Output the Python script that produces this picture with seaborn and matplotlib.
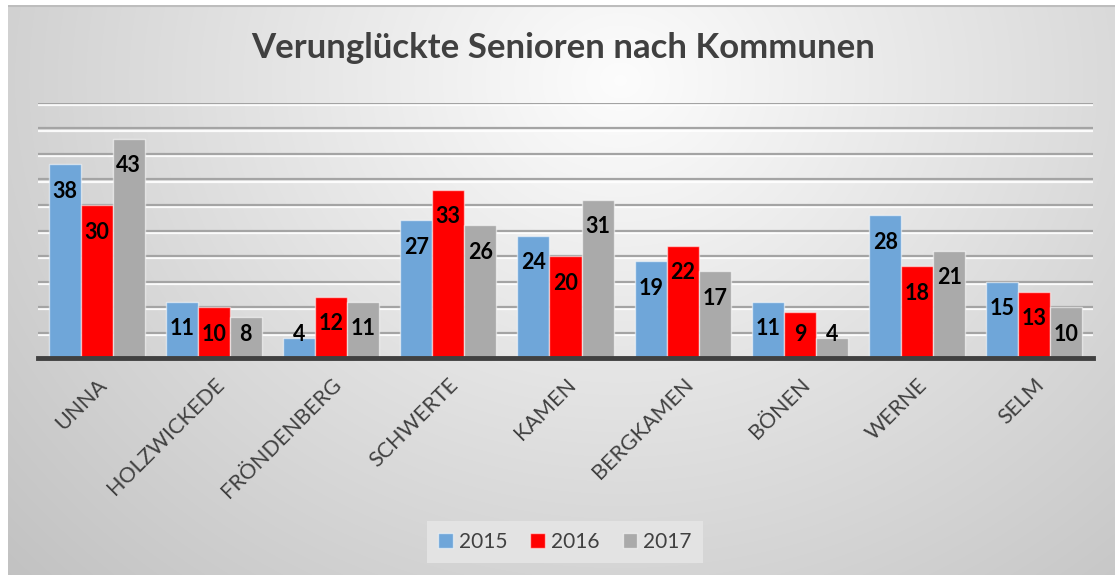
import numpy as np
import pandas as pd
import seaborn as sns
import matplotlib.pyplot as plt
import matplotlib.patheffects as pe

# Data
kommunen = ['UNNA', 'HOLZWICKEDE', 'FRÖNDENBERG', 'SCHWERTE', 'KAMEN',
            'BERGKAMEN', 'BÖNEN', 'WERNE', 'SELM']
jahre = ['2015', '2016', '2017']
werte_2015 = [38, 11, 4, 27, 24, 19, 11, 28, 15]
werte_2016 = [30, 10, 12, 33, 20, 22, 9, 18, 13]
werte_2017 = [43, 8, 11, 26, 31, 17, 4, 21, 10]

df = pd.DataFrame({
    'Kommune': kommunen * 3,
    'Jahr': [j for j in jahre for _ in kommunen],
    'Anzahl': werte_2015 + werte_2016 + werte_2017,
})

sns.set_theme(style='white')
plt.rcParams['font.family'] = ['Lato', 'DejaVu Sans']

W, H = 1115, 575
fig = plt.figure(figsize=(W / 100, H / 100), dpi=100)
fig.patch.set_facecolor('white')

# Background with radial gradient
bg = fig.add_axes([8 / W, 0, 1 - 8 / W, (H - 5) / H])
yy, xx = np.mgrid[0:570, 0:1107]
d = np.sqrt(((xx - 612) / 600.0) ** 2 + ((yy - 75) / 520.0) ** 2)
v = np.clip(0.99 - 0.165 * d, 0, 1)
bg.imshow(np.dstack([v, v, v]), aspect='auto', interpolation='bilinear')
bg.axhline(0.5, color='#bdbdbd', lw=1.5)
bg.set_axis_off()

# Main axes
ax = fig.add_axes([38 / W, 1 - 358 / H, (1093 - 38) / W, (358 - 103) / H])
ax.patch.set_alpha(0)

palette = {'2015': '#6fa6d9', '2016': '#ff0000', '2017': '#aaaaaa'}
sns.barplot(data=df, x='Kommune', y='Anzahl', hue='Jahr', palette=palette,
            width=0.82, edgecolor=(1, 1, 1, 0.55), linewidth=1,
            saturation=1, ax=ax, zorder=3)

ax.set_ylim(0, 50)
ax.set_yticks(np.arange(5, 51, 5))
ax.set_yticklabels([])
ax.tick_params(axis='y', length=0)
ax.yaxis.grid(True, color='#a4a4a4', lw=1.6, zorder=0,
              path_effects=[pe.SimpleLineShadow(offset=(0, -1.5), shadow_color='white', alpha=0.9),
                            pe.Normal()])
ax.set_axisbelow(True)
for s in ['top', 'right', 'left']:
    ax.spines[s].set_visible(False)
ax.spines['bottom'].set_color('#404040')
ax.spines['bottom'].set_linewidth(3.5)
ax.spines['bottom'].set_zorder(5)
ax.set_xlabel('')
ax.set_ylabel('')
ax.tick_params(axis='x', length=0, pad=12)
plt.setp(ax.get_xticklabels(), rotation=45, ha='right', rotation_mode='anchor',
         fontsize=15.5, color='#404040')

# Value labels inside bar ends
for cont in ax.containers:
    for bar in cont:
        h = bar.get_height()
        y = max(h - 5.3, 4.7)
        ax.text(bar.get_x() + bar.get_width() / 2, y, f'{int(h)}',
                ha='center', va='center', fontsize=15.5, fontweight='bold',
                color='black', zorder=6)

# Title
fig.text(563 / W, 1 - 48 / H, 'Verunglückte Senioren nach Kommunen',
         ha='center', va='center', fontsize=25, fontweight='bold', color='#404040')

# Legend
handles, labels = ax.get_legend_handles_labels()
leg = ax.legend(handles, labels, loc='center', bbox_to_anchor=(565 / W, 1 - 542 / H),
                bbox_transform=fig.transFigure, ncol=3, frameon=True, fancybox=False,
                facecolor='#e3e3e3', edgecolor='none', framealpha=1,
                fontsize=15, handlelength=0.7, handleheight=0.7,
                handletextpad=0.3, columnspacing=1.1, borderpad=0.55)
for t in leg.get_texts():
    t.set_color('#404040')

fig.savefig('out.png', dpi=100)
